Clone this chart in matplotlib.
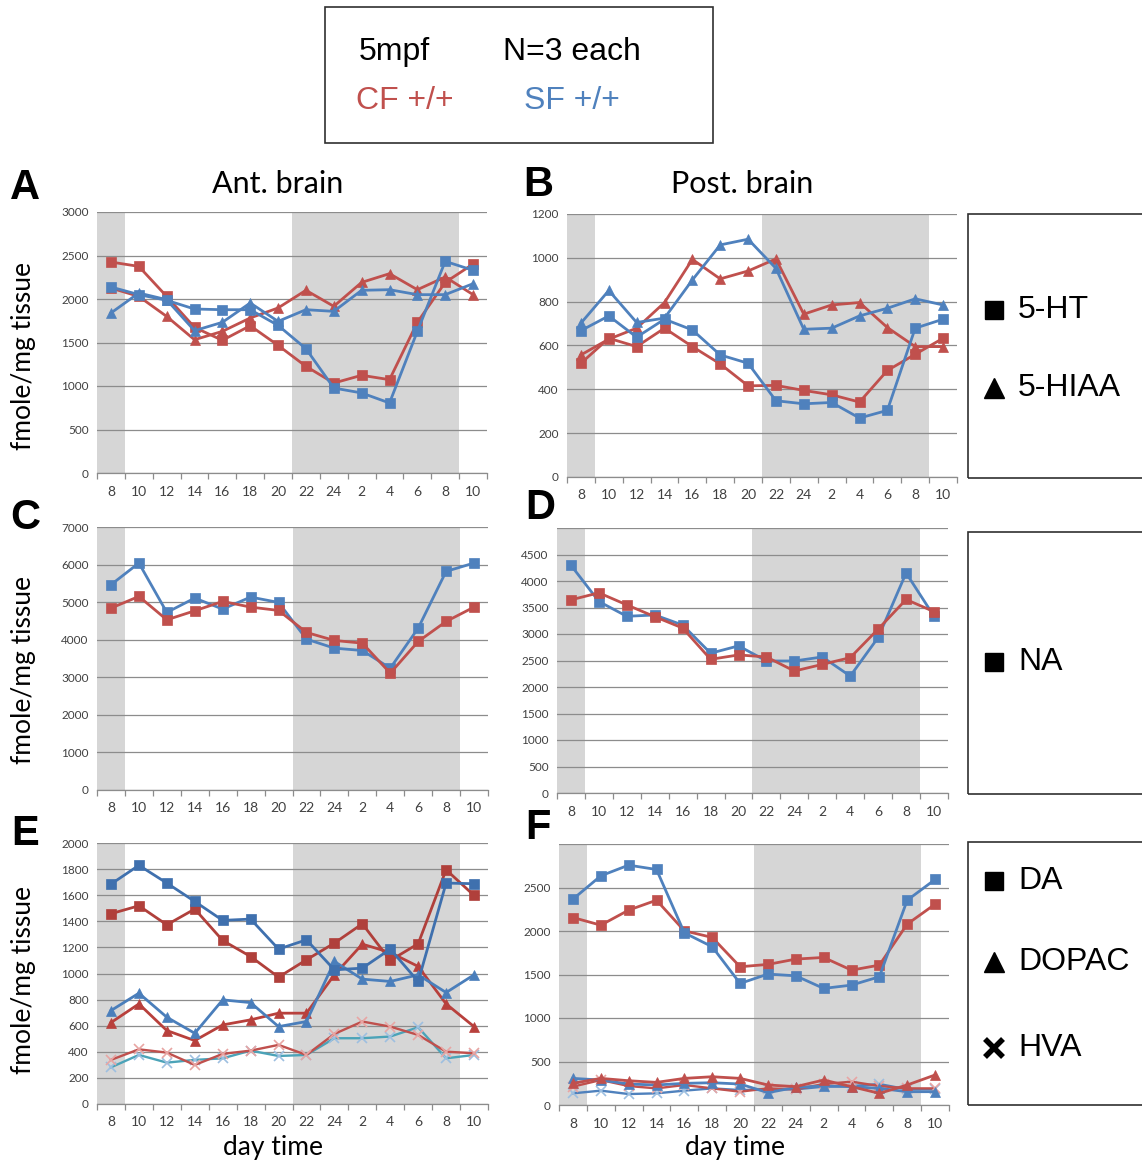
import matplotlib.pyplot as plt
from matplotlib.patches import Rectangle

# Time of day labels (two light/dark cycles)
HOURS = ['8', '10', '12', '14', '16', '18', '20', '22', '24', '2', '4', '6', '8', '10']

# A: anterior brain, 5-HT / 5-HIAA
A_CF_5HT = [2425, 2375, 2030, 1674, 1525, 1693, 1467, 1226, 1034, 1123, 1073, 1732, 2191, 2402]
A_CF_5HIAA = [2126, 2030, 1800, 1532, 1628, 1782, 1897, 2100, 1916, 2191, 2291, 2107, 2253, 2050]
A_SF_5HT = [2138, 2050, 1985, 1885, 1877, 1877, 1697, 1429, 977, 920, 805, 1628, 2433, 2330]
A_SF_5HIAA = [1839, 2069, 1992, 1636, 1732, 1954, 1743, 1877, 1858, 2100, 2107, 2050, 2050, 2176]

# B: posterior brain, 5-HT / 5-HIAA
B_CF_5HT = [519, 633, 595, 679, 595, 516, 416, 418, 395, 375, 342, 486, 560, 633]
B_CF_5HIAA = [557, 629, 679, 796, 993, 904, 940, 995, 743, 785, 796, 682, 595, 595]
B_SF_5HT = [668, 735, 638, 720, 671, 557, 519, 348, 334, 340, 269, 304, 679, 720]
B_SF_5HIAA = [702, 851, 705, 725, 899, 1059, 1085, 952, 674, 679, 735, 770, 813, 785]

# C / D: NA
C_CF_NA = [4841, 5152, 4530, 4770, 5019, 4868, 4779, 4193, 3980, 3909, 3109, 3953, 4486, 4868]
C_SF_NA = [5463, 6041, 4726, 5108, 4815, 5135, 4992, 4015, 3775, 3713, 3242, 4308, 5819, 6041]
D_CF_NA = [3644, 3777, 3549, 3327, 3112, 2522, 2605, 2567, 2301, 2427, 2554, 3093, 3651, 3422]
D_SF_NA = [4297, 3613, 3334, 3359, 3169, 2637, 2776, 2491, 2491, 2567, 2206, 2935, 4151, 3334]

# E: anterior brain, DA / DOPAC / HVA
E_CF_DA = [1458, 1519, 1373, 1494, 1253, 1130, 972, 1105, 1233, 1381, 1100, 1228, 1795, 1598]
E_SF_DA = [1685, 1829, 1693, 1552, 1407, 1417, 1187, 1258, 1028, 1041, 1187, 939, 1693, 1688]
E_CF_DOPAC = [624, 767, 563, 486, 606, 645, 696, 696, 990, 1225, 1161, 1054, 767, 593]
E_SF_DOPAC = [716, 849, 665, 542, 798, 777, 593, 632, 1092, 957, 939, 990, 854, 990]
E_CF_HVA = [338, 419, 394, 299, 384, 409, 453, 376, 537, 632, 593, 529, 401, 389]
E_SF_HVA = [281, 376, 317, 338, 350, 409, 368, 376, 504, 504, 517, 588, 350, 376]

# F: posterior brain, DA / DOPAC / HVA
F_CF_DA = [2155, 2067, 2240, 2354, 2002, 1926, 1589, 1616, 1677, 1696, 1550, 1608, 2079, 2308]
F_SF_DA = [2366, 2634, 2757, 2707, 1979, 1819, 1397, 1505, 1485, 1340, 1378, 1474, 2354, 2592]
F_CF_DOPAC = [249, 306, 279, 260, 306, 325, 306, 230, 211, 287, 211, 134, 230, 345]
F_SF_DOPAC = [306, 287, 241, 230, 249, 256, 241, 142, 203, 218, 211, 191, 153, 153]
F_CF_HVA = [211, 287, 218, 191, 230, 191, 153, 191, 180, 241, 268, 218, 191, 191]
F_SF_HVA = [134, 165, 126, 134, 165, 191, 172, 180, 180, 211, 218, 241, 180, 180]

RED = '#C0504D'
BLUE = '#4F81BD'
W, H = 1142, 1165
SANS = ['Lato', 'DejaVu Sans']
ARIAL = ['Liberation Sans', 'DejaVu Sans']

fig = plt.figure(figsize=(W / 100, H / 100), dpi=100)


def px_axes(x0, y0, x1, y1):
    return fig.add_axes([x0 / W, 1 - y1 / H, (x1 - x0) / W, (y1 - y0) / H])


def ftext(x, y, s, **kw):
    fig.text(x / W, 1 - y / H, s, **kw)


def setup(ax, ymax, step, label_max=None):
    n = len(HOURS)
    ax.set_xlim(-0.5, n - 0.5)
    ax.set_ylim(0, ymax)
    # light/dark shading
    ax.axvspan(-0.5, 0.5, color='#D6D6D6', zorder=0, lw=0)
    ax.axvspan(6.5, 12.5, color='#D6D6D6', zorder=0, lw=0)
    ticks = list(range(0, ymax + 1, step))
    ax.set_yticks(ticks)
    lm = ymax if label_max is None else label_max
    ax.set_yticklabels([str(t) if t <= lm else '' for t in ticks])
    ax.grid(axis='y', color='#8C8C8C', lw=0.9, zorder=1)
    ax.set_axisbelow(True)
    ax.set_xticks(range(n))
    ax.set_xticklabels(HOURS)
    ax.set_xticks([i - 0.5 for i in range(n + 1)], minor=True)
    ax.tick_params(axis='x', which='major', length=0, pad=9, labelsize=10, labelcolor='#404040')
    ax.tick_params(axis='x', which='minor', length=4, color='#8C8C8C', width=0.9)
    ax.tick_params(axis='y', length=0, pad=6, labelsize=8.5, labelcolor='#404040')
    for lab in ax.get_xticklabels() + ax.get_yticklabels():
        lab.set_family(SANS)
    for s in ['top', 'right', 'left']:
        ax.spines[s].set_visible(False)
    ax.spines['bottom'].set_color('#8C8C8C')
    ax.spines['bottom'].set_linewidth(0.9)
    ax.set_facecolor('white')


def line(ax, y, color, marker, ms=7.5, lw=2.0, mfc=None, mew=0.5):
    ax.plot(range(len(y)), y, color=color, marker=marker, ms=ms, lw=lw,
            mfc=mfc or color, mec=mfc or color, mew=mew, zorder=3)


# A
ax = px_axes(97, 212, 487, 473)
setup(ax, 3000, 500)
line(ax, A_CF_5HT, RED, 's')
line(ax, A_CF_5HIAA, RED, '^', ms=7)
line(ax, A_SF_5HIAA, BLUE, '^', ms=7)
line(ax, A_SF_5HT, BLUE, 's')

# B
ax = px_axes(567, 214, 957, 477)
setup(ax, 1200, 200)
line(ax, B_CF_5HT, RED, 's')
line(ax, B_CF_5HIAA, RED, '^', ms=7)
line(ax, B_SF_5HIAA, BLUE, '^', ms=7)
line(ax, B_SF_5HT, BLUE, 's')

# C
ax = px_axes(97, 527, 488, 790)
setup(ax, 7000, 1000)
line(ax, C_SF_NA, BLUE, 's')
line(ax, C_CF_NA, RED, 's')

# D
ax = px_axes(557, 528, 948, 793)
setup(ax, 5000, 500, label_max=4500)
line(ax, D_SF_NA, BLUE, 's')
line(ax, D_CF_NA, RED, 's')

# E
ax = px_axes(97, 843, 488, 1104)
setup(ax, 2000, 200)
line(ax, E_SF_HVA, '#4BA3B8', 'x', ms=7.5, lw=1.7, mfc='#9DBFE0', mew=1.2)
line(ax, E_CF_HVA, '#C0504D', 'x', ms=7.5, lw=1.7, mfc='#E8A5A3', mew=1.2)
line(ax, E_CF_DOPAC, '#B8403C', '^', ms=7)
line(ax, E_SF_DOPAC, '#4A7EBB', '^', ms=7)
line(ax, E_CF_DA, '#B0403B', 's')
line(ax, E_SF_DA, '#3F70AE', 's')

# F
ax = px_axes(559, 844, 949, 1105)
setup(ax, 3000, 500, label_max=2500)
line(ax, F_SF_HVA, BLUE, 'x', ms=7.5, lw=1.7, mfc='#9DBFE0', mew=1.2)
line(ax, F_CF_HVA, RED, 'x', ms=7.5, lw=1.7, mfc='#E8A5A3', mew=1.2)
line(ax, F_SF_DOPAC, BLUE, '^', ms=7)
line(ax, F_CF_DOPAC, RED, '^', ms=7)
line(ax, F_CF_DA, RED, 's')
line(ax, F_SF_DA, BLUE, 's')

# panel letters and titles
for letter, x, y in [('A', 25, 188), ('B', 538, 185), ('C', 25, 518),
                     ('D', 540, 508), ('E', 25, 834), ('F', 538, 828)]:
    ftext(x, y, letter, fontsize=30, fontweight='bold', family=ARIAL,
          ha='center', va='center')
ftext(278, 184, 'Ant. brain', fontsize=22, family=SANS, ha='center', va='center')
ftext(742, 184, 'Post. brain', fontsize=22, family=SANS, ha='center', va='center')
for yc in [356, 670, 980]:
    ftext(24, yc, 'fmole/mg tissue', fontsize=19, family=SANS, rotation=90,
          ha='center', va='center')
ftext(273, 1148, 'day time', fontsize=19, family=SANS, ha='center', va='center')
ftext(735, 1148, 'day time', fontsize=19, family=SANS, ha='center', va='center')

# top legend box
fig.patches.append(Rectangle((325 / W, 1 - 143 / H), 388 / W, 136 / H,
                             transform=fig.transFigure, fill=False,
                             ec='#303030', lw=1.2))
ftext(359, 52, '5mpf', fontsize=23, family=ARIAL, va='center')
ftext(503, 52, 'N=3 each', fontsize=23, family=ARIAL, va='center')
ftext(356, 101, 'CF +/+', fontsize=23, family=ARIAL, va='center', color=RED)
ftext(524, 101, 'SF +/+', fontsize=23, family=ARIAL, va='center', color=BLUE)

# right-hand marker legends
for (y0, y1) in [(214, 478), (532, 794), (842, 1105)]:
    fig.patches.append(Rectangle((968 / W, 1 - y1 / H), 200 / W, (y1 - y0) / H,
                                 transform=fig.transFigure, fill=False,
                                 ec='#303030', lw=1.2))
leg = fig.add_axes([0, 0, 1, 1], facecolor='none')
leg.set_xlim(0, W)
leg.set_ylim(H, 0)
leg.axis('off')
for marker, label, y in [('s', '5-HT', 310), ('^', '5-HIAA', 388), ('s', 'NA', 662),
                         ('s', 'DA', 881), ('^', 'DOPAC', 962), ('x', 'HVA', 1048)]:
    if marker == 'x':
        leg.plot([994], [y], marker='x', ms=13, mew=4, color='black')
    elif marker == '^':
        leg.plot([994], [y], marker='^', ms=15, color='black')
    else:
        leg.plot([994], [y], marker='s', ms=13, color='black')
    leg.text(1018, y, label, fontsize=23, family=ARIAL, va='center')

fig.savefig('out.png', dpi=100)
